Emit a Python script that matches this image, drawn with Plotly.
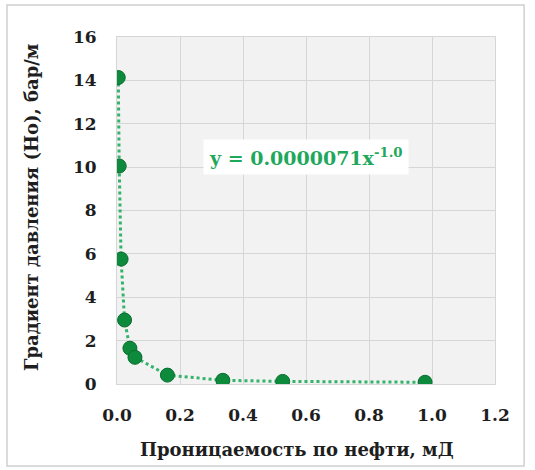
import plotly.graph_objects as go

# Data
permeability = [0.004, 0.007, 0.013, 0.024, 0.041, 0.057, 0.160, 0.336, 0.526, 0.978]
gradient = [14.13, 10.05, 5.76, 2.95, 1.65, 1.23, 0.41, 0.17, 0.12, 0.08]
x_tick_values = [0.0, 0.2, 0.4, 0.6, 0.8, 1.0, 1.2]
x_tick_labels = ["0.0", "0.2", "0.4", "0.6", "0.8", "1.0", "1.2"]
y_tick_values = [0, 2, 4, 6, 8, 10, 12, 14, 16]
y_tick_labels = ["0", "2", "4", "6", "8", "10", "12", "14", "16"]
equation_text = "y = 0.0000071x<sup>-1.0</sup>"
x_title = "Проницаемость по нефти, мД"
y_title = "Градиент давления (Но), бар/м"

FONT = "DejaVu Serif"
INK = "#1e1e1e"

fig = go.Figure()
fig.add_trace(go.Scatter(
    x=permeability, y=gradient, mode="lines",
    line=dict(color="#33b36b", width=3, dash="dot"),
    hoverinfo="skip", showlegend=False,
))
fig.add_trace(go.Scatter(
    x=permeability, y=gradient, mode="markers",
    marker=dict(size=14, color="#0d8a3c", line=dict(color="#0a6e30", width=1)),
    showlegend=False,
))

# trendline equation
fig.add_annotation(
    x=0.6, y=10.46, xref="x", yref="y",
    text="<b>" + equation_text + "</b>", showarrow=False,
    font=dict(family=FONT, size=19, color="#1fa85c"),
    bgcolor="white", borderpad=5,
)

# axis titles
fig.add_annotation(
    x=0.4775, y=-0.19, xref="paper", yref="paper",
    xanchor="center", yanchor="middle", showarrow=False,
    text="<b>" + x_title + "</b>",
    font=dict(family=FONT, size=18, color=INK),
)
fig.add_annotation(
    x=-0.2275, y=0.51, xref="paper", yref="paper",
    xanchor="center", yanchor="middle", showarrow=False, textangle=-90,
    text="<b>" + y_title + "</b>",
    font=dict(family=FONT, size=18, color=INK),
)

# outer border of the image
fig.add_shape(type="rect", xref="paper", yref="paper",
              x0=-0.291, x1=1.077, y0=-0.236, y1=1.092,
              line=dict(color="#d0d0d0", width=1.5), layer="below")

fig.update_layout(
    width=535, height=470,
    margin=dict(l=117, r=40, t=37, b=86),
    paper_bgcolor="white", plot_bgcolor="#f2f2f2",
    font=dict(family=FONT, size=17, color=INK),
    xaxis=dict(
        range=[0, 1.2], tickmode="array", tickvals=x_tick_values, ticktext=x_tick_labels,
        showgrid=True, gridcolor="#d6d6d6", gridwidth=1,
        showline=True, linecolor="#d6d6d6", mirror=True, zeroline=False,
        tickfont=dict(family=FONT, size=17, color=INK, weight="bold"),
        ticks="", ticklabelstandoff=16,
    ),
    yaxis=dict(
        range=[0, 16], tickmode="array", tickvals=y_tick_values, ticktext=y_tick_labels,
        showgrid=True, gridcolor="#d6d6d6", gridwidth=1,
        showline=True, linecolor="#d6d6d6", mirror=True, zeroline=False,
        tickfont=dict(family=FONT, size=17, color=INK, weight="bold"),
        ticks="", ticklabelstandoff=16,
    ),
)

fig.write_html("out.html", config={"displayModeBar": False},
               post_script="document.body.style.margin='0';")
